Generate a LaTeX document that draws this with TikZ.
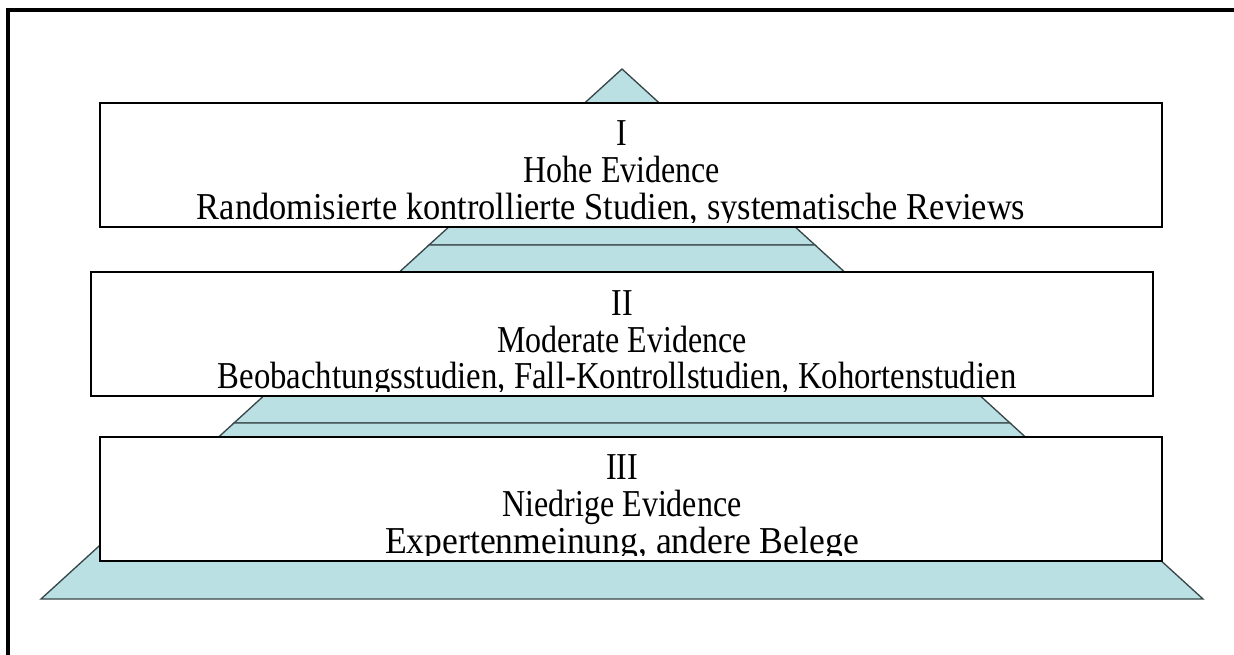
\documentclass[tikz,border=0pt]{standalone}
\usepackage{fontspec}
\setmainfont{Liberation Serif}
\usepackage{xcolor}
\usepackage{tikz}
\definecolor{pyrblau}{RGB}{187,224,227}
\definecolor{pyrrand}{RGB}{55,70,72}
\newcommand{\hoch}[1]{\scalebox{0.93}[1.105]{#1}}
\tikzset{every node/.append style={font=\fontsize{25.8}{27.6}\selectfont}}
\tikzset{
  pyramide/.style={fill=pyrblau, draw=pyrrand, line width=1pt, line join=miter},
  stufe/.style={fill=white, inner sep=0pt, outer sep=0pt, minimum width=796.5pt, minimum height=93pt},
  stufenrand/.style={draw=black, line width=1.5pt},
  stufentext/.style={align=center, inner sep=0pt}
}

\begin{document}
\begin{tikzpicture}[x=0.75pt, y=-0.75pt]
    \useasboundingbox (0,0) rectangle (1234,655);
    \draw[line width=2.3pt] (8,655) -- (8,10) -- (1234,10);
    % Pyramide in drei Teilen
    \coordinate (spitze) at (622,69);
    \coordinate (l1) at (429,245);  \coordinate (r1) at (815,245);
    \coordinate (l2) at (234,423);  \coordinate (r2) at (1010,423);
    \coordinate (l3) at (41,599);   \coordinate (r3) at (1203,599);
    \path[pyramide] (spitze) -- (r1) -- (l1) -- cycle;
    \path[pyramide] (l1) -- (r1) -- (r2) -- (l2) -- cycle;
    \path[pyramide] (l2) -- (r2) -- (r3) -- (l3) -- cycle;
    % Stufe I
    \node[stufe] (boxI) at (631,165.5) {};
    \begin{scope}
        \clip (boxI.north west) rectangle ([yshift=3.5pt]boxI.south east);
        \node[stufentext, anchor=base] (textI) at (622,219.3) {\hoch{I}\\\hoch{Hohe Evidence}\\\scalebox{1}[1.105]{Randomisierte kontrollierte Studien, systematische Reviews}\hspace*{16.5pt}};
    \end{scope}
    \draw[stufenrand] (boxI.south west) rectangle (boxI.north east);
    % Stufe II
    \node[stufe] (boxII) at (622,334.5) {};
    \begin{scope}
        \clip (boxII.north west) rectangle ([yshift=3.5pt]boxII.south east);
        \node[stufentext, anchor=base] (textII) at (622,389) {\hoch{II}\\\hoch{Moderate Evidence}\\\scalebox{0.952}[1.105]{Beobachtungsstudien, Fall-Kontrollstudien, Kohortenstudien}\hspace*{7.5pt}};
    \end{scope}
    \draw[stufenrand] (boxII.south west) rectangle (boxII.north east);
    % Stufe III
    \node[stufe] (boxIII) at (631,498.5) {};
    \begin{scope}
        \clip (boxIII.north west) rectangle ([yshift=3.5pt]boxIII.south east);
        \node[stufentext, anchor=base] (textIII) at (622,553.3) {\hoch{III}\\\hoch{Niedrige Evidence}\\\scalebox{1.035}[1.105]{Expertenmeinung, andere Belege}};
    \end{scope}
    \draw[stufenrand] (boxIII.south west) rectangle (boxIII.north east);
\end{tikzpicture}
\end{document}
